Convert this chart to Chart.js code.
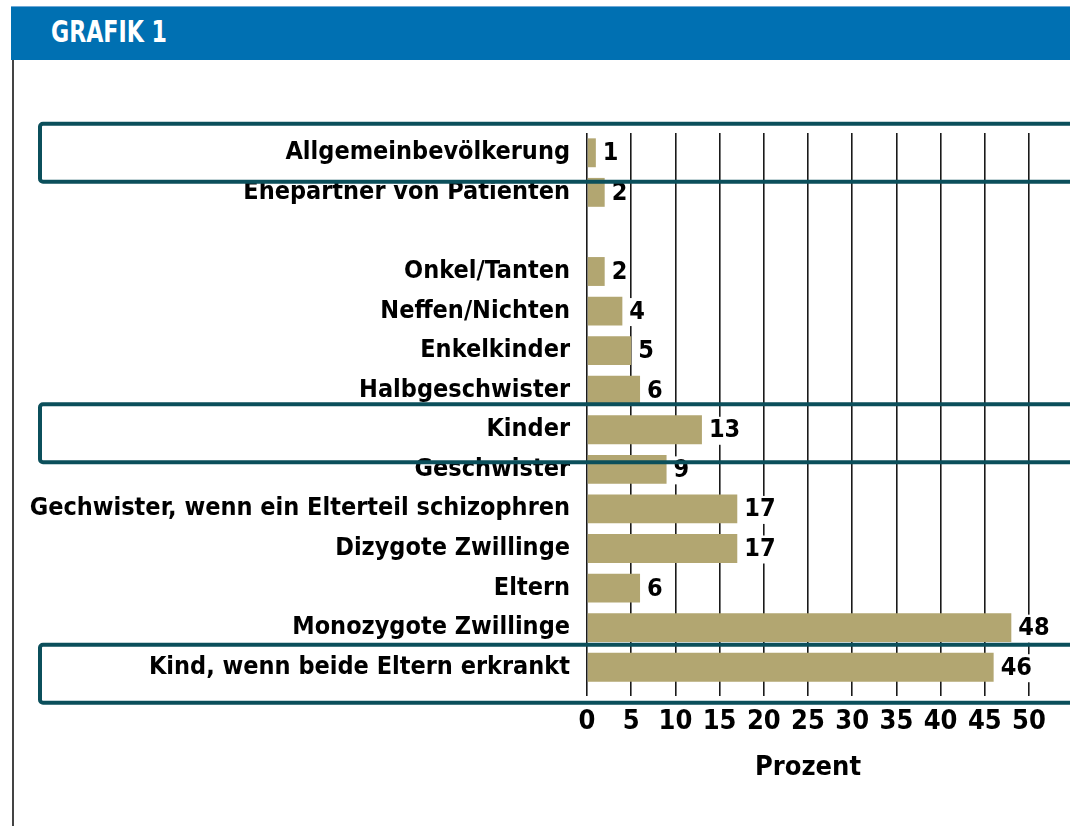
<!DOCTYPE html>
<html>
<head>
<meta charset="utf-8">
<script src="https://cdn.jsdelivr.net/npm/chart.js@4/dist/chart.umd.min.js"></script>
<style>
  html, body { margin: 0; padding: 0; background: #fff; }
  #wrap { position: relative; width: 1070px; height: 826px; overflow: hidden; }
  #band { position: absolute; left: 11px; top: 6px; width: 1059px; height: 53px; background: #0070b2; border-top: 1px solid #6fa8d6; z-index: 2; }
  #band span { position: absolute; left: 40px; top: 7px; color: #fff; font: bold 30px "Liberation Sans Narrow", "DejaVu Sans Condensed", sans-serif; transform: scaleX(0.82); transform-origin: left center; }
  #edge { position: absolute; left: 12px; top: 60px; width: 0; height: 766px; border-left: 2px solid #444; z-index: 2; }
  canvas { position: absolute; left: 0; top: 0; }
</style>
</head>
<body>
<div id="wrap">
  <div id="band"><span>GRAFIK 1</span></div>
  <div id="edge"></div>
  <canvas id="chart" width="1070" height="826"></canvas>
</div>
<script>
const categories = [
  "Allgemeinbevölkerung",
  "Ehepartner von Patienten",
  "",
  "Onkel/Tanten",
  "Neffen/Nichten",
  "Enkelkinder",
  "Halbgeschwister",
  "Kinder",
  "Geschwister",
  "Gechwister, wenn ein Elterteil schizophren",
  "Dizygote Zwillinge",
  "Eltern",
  "Monozygote Zwillinge",
  "Kind, wenn beide Eltern erkrankt"
];
const values = [1, 2, null, 2, 4, 5, 6, 13, 9, 17, 17, 6, 48, 46];
const highlightRows = [0, 7, 13];
const xTicks = [0, 5, 10, 15, 20, 25, 30, 35, 40, 45, 50];

const FONT = '"Liberation Sans Narrow", "DejaVu Sans Condensed", sans-serif';
const BAR = "#b2a671";
const BOX = "#0b4f5b";

// value labels with white backing, drawn after the bars
const valueLabels = {
  id: "valueLabels",
  afterDatasetsDraw(chart) {
    const ctx = chart.ctx;
    const meta = chart.getDatasetMeta(0);
    ctx.save();
    ctx.font = "bold 25px " + FONT;
    ctx.textBaseline = "middle";
    meta.data.forEach((bar, i) => {
      if (values[i] == null) return;
      const txt = String(values[i]);
      const w = ctx.measureText(txt).width;
      const x = bar.x + 7;
      ctx.fillStyle = "#fff";
      ctx.fillRect(x - 2, bar.y - 13, w + 4, 28);
      ctx.fillStyle = "#000";
      ctx.fillText(txt, x, bar.y + 1);
    });
    ctx.restore();
  }
};

// outlined rows (boxes drift slightly downward in the original)
const rowBoxes = {
  id: "rowBoxes",
  afterDraw(chart) {
    const ctx = chart.ctx;
    const y = chart.scales.y;
    ctx.save();
    ctx.strokeStyle = BOX;
    ctx.lineWidth = 4;
    highlightRows.forEach(r => {
      const cy = y.getPixelForValue(r) + r * 0.5;
      ctx.beginPath();
      ctx.roundRect(40, cy - 29, 1040, 58, 3);
      ctx.stroke();
    });
    ctx.restore();
  }
};

new Chart(document.getElementById("chart"), {
  type: "bar",
  data: {
    labels: categories,
    datasets: [{
      data: values,
      backgroundColor: BAR,
      barPercentage: 0.73,
      categoryPercentage: 1
    }]
  },
  options: {
    indexAxis: "y",
    responsive: false,
    animation: false,
    layout: { padding: { top: 133, right: 41, bottom: 0, left: 0 } },
    plugins: {
      legend: { display: false },
      tooltip: { enabled: false }
    },
    scales: {
      x: {
        min: 0,
        max: 50,
        afterBuildTicks: s => { s.ticks = xTicks.map(v => ({ value: v })); },
        afterFit: s => { s.height = 139; },
        border: { display: false },
        grid: { color: "#1a1a1a", lineWidth: 1.6, tickLength: 9, tickColor: "#1a1a1a" },
        ticks: { color: "#000", padding: 10, font: { family: FONT, size: 27, weight: "bold" } },
        title: {
          display: true,
          text: "Prozent",
          color: "#000",
          padding: { top: 0, bottom: 42 },
          font: { family: FONT, size: 27, weight: "bold" }
        }
      },
      y: {
        afterFit: s => { s.width = 587; },
        border: { display: false },
        grid: { display: false, drawTicks: false },
        ticks: { color: "#000", padding: 17, font: { family: FONT, size: 25, weight: "bold" } }
      }
    }
  },
  plugins: [valueLabels, rowBoxes]
});
</script>
</body>
</html>
